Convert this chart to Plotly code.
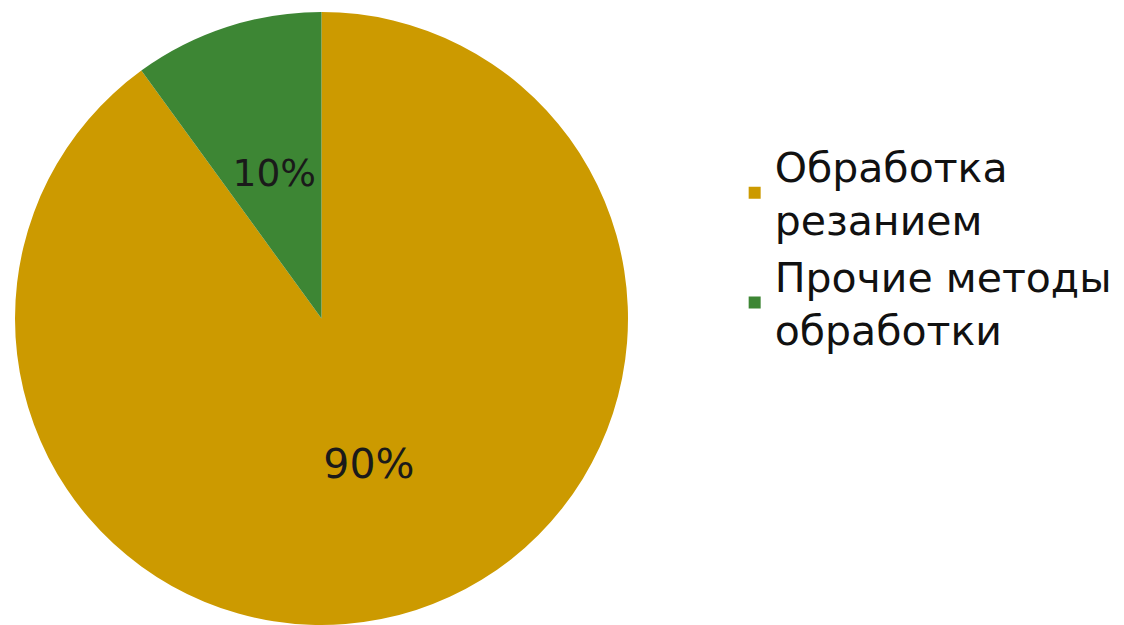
import plotly.graph_objects as go

labels = ["Обработка<br>резанием", "Прочие методы<br>обработки"]
values = [90, 10]
colors = ["#CC9A00", "#3D8634"]

W, H = 1124, 625
OFF = 8  # page body margin offset
cx, cy, R = 321.5 - OFF, 318.5 - OFF, 306.5
R2 = 200  # inner overlay pie used to place the small-slice label closer to the centre

def dom(r):
    return dict(x=[(cx - r) / W, (cx + r) / W], y=[(H - (cy + r)) / H, (H - (cy - r)) / H])

label_font = dict(family="DejaVu Sans, Liberation Sans, Arial, sans-serif", size=41, color="#1a1a1a")

fig = go.Figure()
fig.add_trace(
    go.Pie(
        labels=labels,
        values=values,
        sort=False,
        direction="clockwise",
        rotation=0,
        marker=dict(colors=colors, line=dict(width=0)),
        texttemplate=["%{percent:.0%}", ""],
        textposition=["inside", "none"],
        insidetextorientation="horizontal",
        textfont=label_font,
        domain=dom(R),
        hoverinfo="label+percent",
    )
)
fig.add_trace(
    go.Pie(
        labels=labels,
        values=values,
        sort=False,
        direction="clockwise",
        rotation=0,
        marker=dict(colors=["rgba(0,0,0,0)", "rgba(0,0,0,0)"], line=dict(width=0)),
        texttemplate=["", "%{percent:.0%}"],
        textposition=["none", "inside"],
        insidetextorientation="horizontal",
        textfont=label_font,
        domain=dom(R2),
        hoverinfo="skip",
        showlegend=False,
    )
)

fig.update_layout(
    width=W,
    height=H,
    margin=dict(l=0, r=0, t=0, b=0),
    paper_bgcolor="white",
    plot_bgcolor="white",
    showlegend=True,
    legend=dict(
        x=0.6465,
        y=0.80,
        xanchor="left",
        yanchor="top",
        font=dict(family="DejaVu Sans, Liberation Sans, Arial, sans-serif", size=41, color="#111111"),
        itemwidth=30,
        tracegroupgap=0,
    ),
)

fig.write_html("out.html")
